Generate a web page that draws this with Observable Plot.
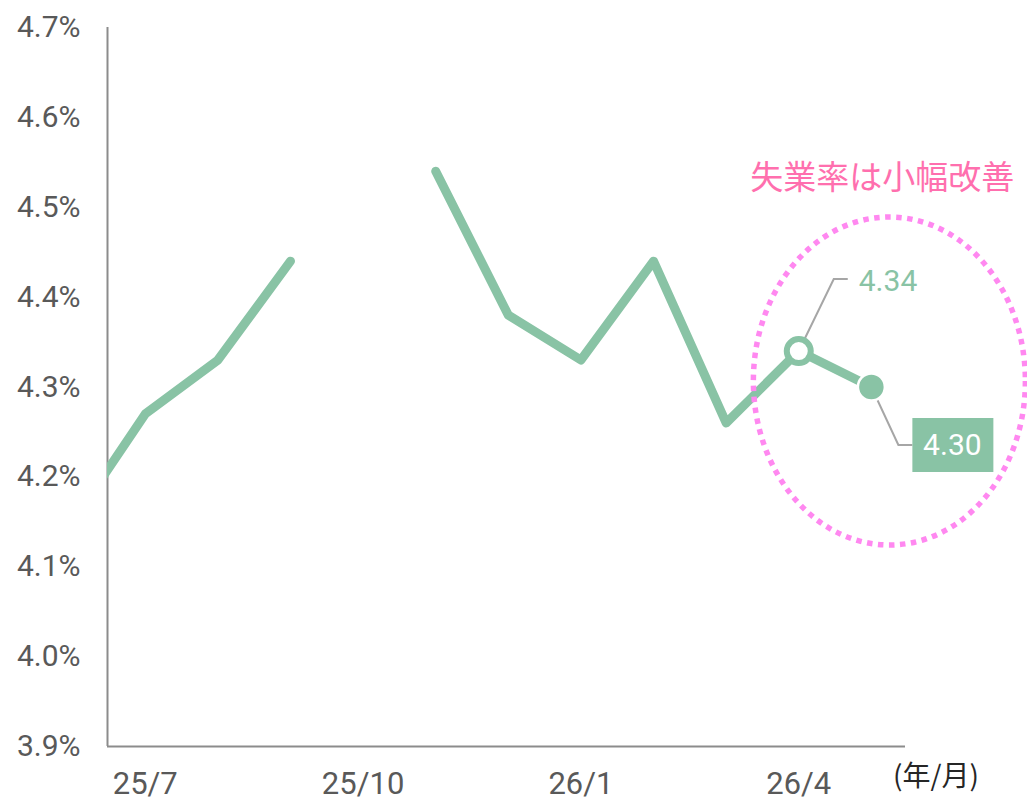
<!DOCTYPE html>
<html>
<head>
<meta charset="utf-8">
<script src="https://cdn.jsdelivr.net/npm/d3@7"></script>
<script src="https://cdn.jsdelivr.net/npm/@observablehq/plot@0.6"></script>
<style>
  html, body { margin: 0; padding: 0; background: #ffffff; }
  #chart svg { display: block; overflow: visible; }
</style>
</head>
<body>
<div id="chart"></div>
<script>
// ---- data ----
const months = ["25/6","25/7","25/8","25/9","25/10","25/11","25/12","26/1","26/2","26/3","26/4","26/5"];
const rate   = [4.15, 4.27, 4.33, 4.44, null, 4.54, 4.38, 4.33, 4.44, 4.26, 4.34, 4.30];
const xTickLabels = ["25/7","25/10","26/1","26/4"];
const yTicks = [3.9, 4.0, 4.1, 4.2, 4.3, 4.4, 4.5, 4.6, 4.7];
const title = "失業率は小幅改善";
const unitLabel = "(年/月)";
const callouts = [
  {month: "26/4", label: "4.34"},
  {month: "26/5", label: "4.30"}
];

// ---- build table ----
const table = months.map((m, i) => ({i, m, v: rate[i]}));
const idx = m => months.indexOf(m);
const c1 = table[idx(callouts[0].month)];
const c2 = table[idx(callouts[1].month)];
const last = table[table.length - 1];

const green = "#89c3a5";
const gray = "#595959";

// custom symbol shapes for annotations (drawn relative to the anchoring point)
const ellipseSym = {draw(ctx) {
  const rx = 136, ry = 164, k = 0.5523, cx = 18, cy = -6;
  ctx.moveTo(cx + rx, cy);
  ctx.bezierCurveTo(cx + rx, cy + ry * k, cx + rx * k, cy + ry, cx, cy + ry);
  ctx.bezierCurveTo(cx - rx * k, cy + ry, cx - rx, cy + ry * k, cx - rx, cy);
  ctx.bezierCurveTo(cx - rx, cy - ry * k, cx - rx * k, cy - ry, cx, cy - ry);
  ctx.bezierCurveTo(cx + rx * k, cy - ry, cx + rx, cy - ry * k, cx + rx, cy);
  ctx.closePath();
}};
const leader1 = {draw(ctx) { ctx.moveTo(0, 0); ctx.lineTo(35, -72); ctx.lineTo(49, -72); }};
const leader2 = {draw(ctx) { ctx.moveTo(0, 0); ctx.lineTo(27, 58); ctx.lineTo(41, 58); }};
const boxSym  = {draw(ctx) { ctx.rect(41, 31, 81, 54); }};

const chart = Plot.plot({
  width: 1027,
  height: 800,
  marginLeft: 107,
  marginRight: 122,
  marginTop: 27,
  marginBottom: 54,
  x: {domain: [0.48, 11.47]},
  y: {domain: [3.9, 4.7]},
  style: {fontFamily: "Roboto, 'Noto Sans CJK JP', sans-serif", color: gray, background: "#ffffff", overflow: "visible"},
  marks: [
    Plot.axisY({ticks: yTicks, tickSize: 0, tickPadding: 27, fontSize: 30, label: null,
      tickFormat: d => d.toFixed(1) + "%"}),
    Plot.axisX({ticks: xTickLabels.map(idx), tickSize: 0, tickPadding: 25, fontSize: 31, label: null,
      letterSpacing: "0.6px", tickFormat: i => months[i]}),
    Plot.ruleX([0.48], {stroke: "#8c8c8c", strokeWidth: 2}),
    Plot.ruleY([3.9], {stroke: "#8c8c8c", strokeWidth: 2}),
    Plot.line(table, {x: "i", y: "v", stroke: green, strokeWidth: 9,
      strokeLinejoin: "round", strokeLinecap: "round", clip: true}),
    // dotted ellipse highlight
    Plot.dot([last], {x: "i", y: "v", symbol: ellipseSym, r: 10, fill: "none",
      stroke: "#ff88f0", strokeWidth: 5.5, strokeDasharray: "5.5 5.5"}),
    // title annotation
    Plot.text([last], {x: "i", y: "v", text: () => title, dx: 11, dy: -209,
      fontFamily: "'Noto Sans CJK JP', sans-serif", fontSize: 33, fill: "#ff6fae",
      textAnchor: "middle", letterSpacing: "1.5px"}),
    // leader lines
    Plot.dot([c1], {x: "i", y: "v", symbol: leader1, r: 10, fill: "none", stroke: "#a6a6a6", strokeWidth: 2}),
    Plot.dot([c2], {x: "i", y: "v", symbol: leader2, r: 10, fill: "none", stroke: "#a6a6a6", strokeWidth: 2}),
    // markers
    Plot.dot([c1], {x: "i", y: "v", r: 12, fill: "#ffffff", stroke: green, strokeWidth: 6}),
    Plot.dot([c2], {x: "i", y: "v", r: 13.5, fill: green, stroke: "#ffffff", strokeWidth: 2.5}),
    // labels
    Plot.text([c1], {x: "i", y: "v", text: () => callouts[0].label, dx: 60, dy: -70,
      textAnchor: "start", fontSize: 30, fill: green}),
    Plot.dot([c2], {x: "i", y: "v", symbol: boxSym, r: 10, fill: green, stroke: "none"}),
    Plot.text([c2], {x: "i", y: "v", text: () => callouts[1].label, dx: 81, dy: 58,
      textAnchor: "middle", fontSize: 30, fill: "#ffffff"}),
    // unit label
    Plot.text([{i: months.length}], {x: "i", frameAnchor: "bottom", text: () => unitLabel,
      dx: -8, dy: 39, fontFamily: "'Noto Sans CJK JP', sans-serif", fontSize: 28,
      fill: "#262626", letterSpacing: "3px", clip: false})
  ]
});
document.getElementById("chart").appendChild(chart);
</script>
</body>
</html>
